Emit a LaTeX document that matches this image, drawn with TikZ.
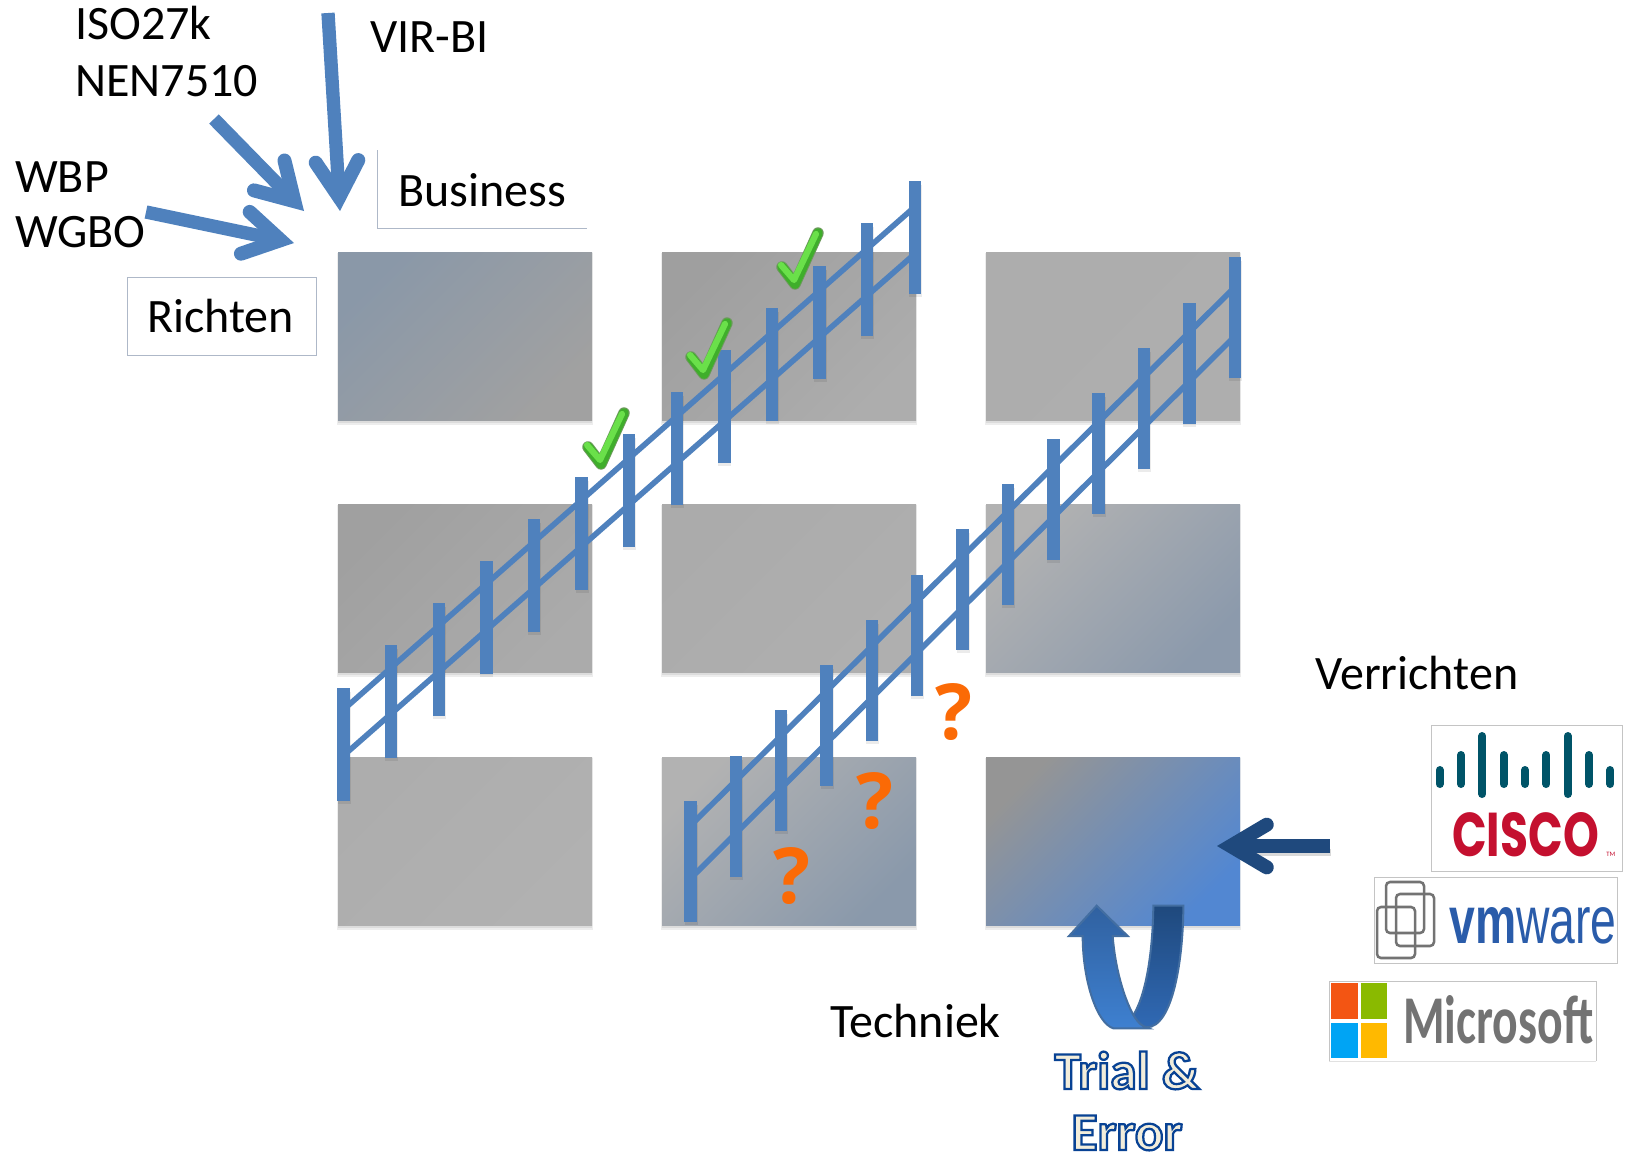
\documentclass[tikz,border=0pt]{standalone}
\usepackage{fontspec}
\usepackage{graphicx}
\setmainfont{Carlito}
\newfontfamily\osfont{Open Sans}
\newfontfamily\popfont{Poppins}
\usetikzlibrary{arrows.meta,shadows,calc}
\definecolor{bar}{HTML}{4F81BD}
\definecolor{navy}{HTML}{1F497D}
\definecolor{qorange}{HTML}{FB6A06}
\definecolor{framegray}{HTML}{C4C4C4}
\definecolor{lineblue}{HTML}{AEB8C8}
\definecolor{ciscoteal}{HTML}{005468}
\definecolor{ciscored}{HTML}{C4102F}
\definecolor{vmblue}{HTML}{2A5CAA}
\definecolor{msgray}{HTML}{737373}
\definecolor{msorange}{HTML}{F35513}
\definecolor{msgreen}{HTML}{8ABA00}
\definecolor{msblue}{HTML}{00A4F4}
\definecolor{msyellow}{HTML}{FFB900}
\definecolor{backlow}{HTML}{3069B4}
\definecolor{fronttop}{HTML}{3061A0}
\definecolor{frontlow}{HTML}{3E80D0}
\definecolor{tickedge}{HTML}{6E9A5E}
\definecolor{tickmid}{HTML}{3FAE2B}
\definecolor{ticklight}{HTML}{6AE04A}
\tikzset{
  x=0.75pt,y=-0.75pt,
  cell/.style 2 args={top color=#1,bottom color=#2,shading angle=45,draw=none},
  softshadow/.style={fill=black,opacity=0.07},
  label/.style={font=\fontsize{36}{36}\selectfont,anchor=base west,inner sep=0pt,text=black},
  qmark/.style={font=\fontsize{58}{58}\selectfont\osfont\bfseries,anchor=base,inner sep=0pt,text=qorange},
  stickarrow/.style={draw=#1,line width=10pt,-{Straight Barb[length=27pt,width=32pt,line width=10.5pt,line cap=round,line join=miter]}},
  rail/.style={draw=bar,line width=4.2pt},
  post/.style={fill=bar},
  postshadow/.style={fill=black,opacity=0.08},
  logoframe/.style={draw=framegray,line width=0.75pt,fill=white},
  ciscobar/.style={draw=ciscoteal,line width=6pt,line cap=round},
  vmsq/.style={draw=msgray,line width=1.9pt,rounded corners=3pt},
  outlined/.style={font=\fontsize{40}{40}\selectfont\bfseries,anchor=base,inner sep=0pt},
}
\newcommand{\gridcell}[6]{%
  \definecolor{cellA}{HTML}{#5}\definecolor{cellB}{HTML}{#6}%
  \fill[softshadow] (#1-1,#2+1) rectangle (#3+1,#4+5);
  \fill[softshadow] (#1,#2+1) rectangle (#3,#4+3);
  \shade[cell={cellA}{cellB}] (#1,#2) rectangle (#3,#4);
}
\newcommand{\tick}[2]{%
  \begin{scope}[shift={(#1,#2)}]
    \draw[line width=8.6pt,line cap=round,line join=round,draw=tickedge] (-13,-10) -- (0,7) -- (23,-44);
    \draw[line width=7.2pt,line cap=round,line join=round,draw=tickmid] (-13,-10) -- (0,7) -- (23,-44);
    \draw[line width=4.6pt,line cap=round,line join=round,draw=ticklight] (-14,-12) -- (-1,3) -- (21,-43);
  \end{scope}}
\newcommand{\outlinetext}[1]{\special{pdf:code 2 Tr 1.7 w 0.03 0.26 0.58 RG 0.95 0.93 0.86 rg}#1\special{pdf:code 0 Tr}}
\begin{document}
\begin{tikzpicture}
\useasboundingbox (0,0) rectangle (1631,1154);
% grid
\gridcell{338}{252}{592}{420}{8A98A8}{A1A1A1}
\gridcell{662}{252}{916}{420}{9F9F9F}{ADADAD}
\gridcell{986}{252}{1240}{420}{ADADAD}{AEAEAE}
\gridcell{338}{504}{592}{672}{A0A0A0}{ABABAB}
\gridcell{662}{504}{916}{672}{ABABAB}{AFAFAF}
\gridcell{986}{504}{1240}{672}{B2B2B2}{8C9AAC}
\gridcell{338}{757}{592}{925}{ADADAD}{B1B1B1}
\gridcell{662}{757}{916}{925}{B2B2B2}{8A99AB}
\gridcell{986}{757}{1240}{925}{959595}{5287D2}
% upper fence
\foreach \i in {0,...,12}{
  \pgfmathsetmacro{\fx}{343.5+47.6*\i}
  \pgfmathsetmacro{\fy}{687.5-42.2*\i}
  \fill[postshadow] (\fx-6,\fy+4) rectangle (\fx+7,\fy+116);
  \fill[post] (\fx-6.2,\fy) rectangle (\fx+6.2,\fy+113);
}
\coordinate (ua) at (343,710); \coordinate (ub) at (918,204);
\coordinate (la) at (343,756); \coordinate (lb) at (918,251);
\draw[rail] (ua) -- (ub);
\draw[rail] (la) -- (lb);
% lower fence
\foreach \i in {0,...,12}{
  \pgfmathsetmacro{\fx}{690.5+45.35*\i}
  \pgfmathsetmacro{\fy}{801-45.3*\i}
  \fill[postshadow] (\fx-6,\fy+4) rectangle (\fx+7,\fy+124);
  \fill[post] (\fx-6.2,\fy) rectangle (\fx+6.2,\fy+121);
}
\coordinate (uc) at (693,823); \coordinate (ud) at (1238,284);
\coordinate (lc) at (692,877); \coordinate (ld) at (1238,333);
\draw[rail] (uc) -- (ud);
\draw[rail] (lc) -- (ld);
% ticks
\tick{601}{457}
\tick{704}{367}
\tick{795}{277}
% question marks
\node[qmark] (q1) at (792,903) {?};
\node[qmark] (q2) at (875,828) {?};
\node[qmark] (q3) at (954,739) {?};
% frames
\node[draw=lineblue,line width=0.75pt,minimum width=141.75pt,minimum height=58.5pt,inner sep=0pt] (richtenbox) at (221.5,316) {};
\draw[draw=lineblue,line width=0.75pt] (377,150) -- (377,228) -- (586.5,228);
% labels
\node[label] (iso) at (75,39) {ISO27k};
\node[label] (nen) at (75,96) {NEN7510};
\node[label] (vir) at (370,52) {VIR-BI};
\node[label] (wbp) at (15,192) {WBP};
\node[label] (wgbo) at (15,247) {WGBO};
\node[label] (business) at (398,206) {Business};
\node[label] (richten) at (147,332) {Richten};
\node[label] (verrichten) at (1315,689) {Verrichten};
\node[label] (techniek) at (830,1037) {Techniek};
% incoming arrows
\coordinate (a1) at (146,212); \coordinate (t1) at (294,243);
\coordinate (a2) at (214,119); \coordinate (t2) at (304,211);
\coordinate (a3) at (328,13);  \coordinate (t3) at (340,211);
\coordinate (a4) at (1330,846); \coordinate (t4) at (1217,846);
\draw[stickarrow=bar] (a1) -- (t1);
\draw[stickarrow=bar] (a2) -- (t2);
\draw[stickarrow=bar] (a3) -- (t3);
\fill[black,opacity=0.15] (1250,849) rectangle (1331,856);
\draw[stickarrow=navy] (a4) -- (t4);
% U-turn arrow
\begin{scope}[shift={(960,740)},x=0.25pt,y=-0.25pt]
  \shade[top color=navy,bottom color=backlow,draw=bar!85!black,line width=1.5pt]
    (580,497) -- (670,497) .. controls (670,650) and (640,862) .. (560,862)
    .. controls (545,860) and (530,845) .. (520,825)
    .. controls (555,770) and (578,650) .. (580,497) -- cycle;
  \shade[top color=fronttop,bottom color=frontlow,draw=bar!85!black,line width=1.5pt]
    (410,497) -- (503,588) -- (458,588)
    .. controls (465,680) and (490,770) .. (520,825)
    .. controls (535,850) and (550,862) .. (565,865)
    -- (460,865)
    .. controls (410,850) and (368,720) .. (368,588)
    -- (327,588) -- cycle;
\end{scope}
% trial and error
\node[outlined] (trial) at (1127,1089) {\outlinetext{Trial \&}};
\node[outlined] (error) at (1127,1150) {\outlinetext{Error}};
% cisco logo
\draw[logoframe] (1431,725) rectangle (1622,871);
\foreach \xx/\ya/\yb in {1439.7/770/784,1461/755/784,1482.3/736/794,1503.7/755/784,1525/770/784,1546.3/755/784,1567.7/736/794,1589/755/784,1610.3/770/784}{
  \draw[ciscobar] (\xx,\ya) -- (\xx,\yb);
}
\node[anchor=base west,inner sep=0pt,text=ciscored] (cisco) at (1452,856)
  {\resizebox{110pt}{33pt}{\popfont\bfseries CISCO}};
\node[anchor=base west,inner sep=0pt,text=ciscored,font=\fontsize{5}{5}\selectfont] (tm) at (1606,856) {TM};
% vmware logo
\draw[logoframe] (1374,877) rectangle (1617,963);
\draw[vmsq] (1386,882) rectangle (1424,933);
\draw[vmsq] (1396,894) rectangle (1434,946);
\draw[vmsq] (1377,907) rectangle (1415,958);
\node[anchor=base west,inner sep=0pt,text=vmblue] (vmw) at (1449,943)
  {\resizebox{125.5pt}{27pt}{\fontspec{Liberation Sans}{\bfseries vm}ware}};
% microsoft logo
\fill[white] (1329,981) rectangle (1596,1061);
\draw[framegray,line width=0.75pt] (1329,1061) -- (1329,981) -- (1596,981) -- (1596,1061);
\draw[framegray!50,line width=0.75pt] (1329,1061) -- (1596,1061);
\fill[msorange] (1331,983) rectangle (1358,1019);
\fill[msgreen] (1361,983) rectangle (1387,1019);
\fill[msblue] (1331,1023) rectangle (1358,1058);
\fill[msyellow] (1361,1023) rectangle (1387,1058);
\node[anchor=base west,inner sep=0pt,text=msgray] (ms) at (1403,1043)
  {\resizebox{142.5pt}{36pt}{\bfseries Microsoft}};
\end{tikzpicture}
\end{document}
